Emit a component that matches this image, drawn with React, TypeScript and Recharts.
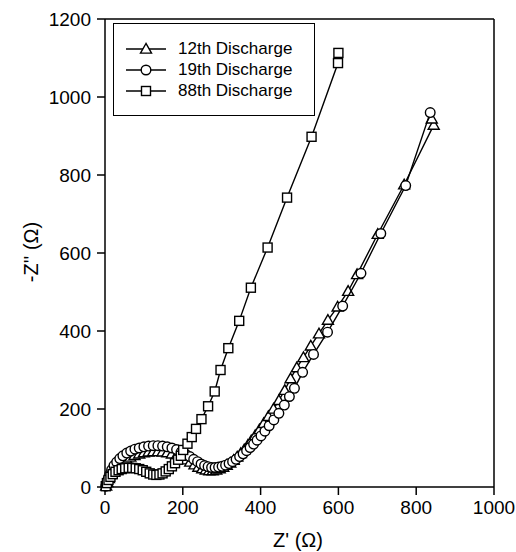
import React from "react";
import {
  ScatterChart,
  Scatter,
  XAxis,
  YAxis,
  ReferenceLine,
} from "recharts";

// Z' (ohm), -Z'' (ohm) pairs
const discharge12 = [
  [3, 3], [6, 12], [10, 22], [15, 32], [21, 42], [28, 51], [36, 59], [45, 66],
  [55, 72], [65, 77], [76, 81], [88, 85], [100, 88], [112, 90], [124, 91],
  [136, 91], [148, 90], [160, 88], [172, 85], [184, 81], [196, 76], [208, 70],
  [219, 64], [230, 57], [240, 51], [250, 47], [259, 44], [268, 42], [277, 42],
  [286, 44], [295, 47], [304, 51], [313, 56], [322, 62], [331, 69], [340, 77],
  [349, 86], [358, 96], [367, 107], [376, 119], [386, 132], [397, 147],
  [408, 163], [420, 181], [433, 200], [447, 222], [462, 248], [477, 278],
  [493, 306], [510, 332], [529, 362], [550, 393], [573, 428], [598, 462],
  [625, 502], [648, 545], [701, 648], [769, 775], [845, 928], [840, 944],
];

const discharge19 = [
  [2, 2], [4, 9], [8, 20], [12, 32], [17, 44], [23, 55], [30, 64], [38, 73],
  [46, 80], [56, 87], [66, 92], [77, 97], [88, 100], [100, 103], [112, 105],
  [124, 106], [136, 106], [148, 105], [160, 103], [172, 100], [184, 96],
  [196, 90], [207, 84], [218, 78], [228, 71], [238, 65], [247, 59], [256, 55],
  [265, 52], [274, 50], [283, 50], [292, 51], [301, 53], [310, 56], [319, 60],
  [328, 65], [337, 71], [346, 78], [355, 85], [364, 93], [373, 101], [382, 110],
  [391, 120], [401, 131], [411, 143], [422, 157], [434, 172], [447, 189],
  [461, 210], [474, 232], [487, 253], [508, 294], [536, 340], [572, 397],
  [611, 464], [658, 548], [709, 650], [773, 773], [836, 960],
];

const discharge88 = [
  [2, 2], [5, 10], [9, 18], [14, 26], [20, 33], [27, 39], [35, 43], [43, 46],
  [52, 48], [61, 49], [70, 49], [79, 48], [88, 46], [97, 43], [106, 39],
  [115, 35], [124, 32], [132, 31], [140, 32], [148, 35], [156, 40], [164, 46],
  [172, 53], [180, 61], [188, 70], [195, 80], [201, 95], [212, 111], [223, 128],
  [234, 149], [248, 174], [265, 207], [282, 245], [297, 300], [317, 356],
  [345, 426], [375, 511], [418, 614], [468, 742], [531, 898], [599, 1087],
  [600, 1113],
];

const xTicks = [0, 200, 400, 600, 800, 1000];
const yTicks = [0, 200, 400, 600, 800, 1000, 1200];

const seriesNames = ["12th Discharge", "19th Discharge", "88th Discharge"];

const toPoints = (arr: number[][]) => arr.map(([x, y]) => ({ x, y }));

const FONT = "'Liberation Sans', Arial, sans-serif";
const STROKE = 1.4;

const Marker = ({ kind, cx, cy }: { kind: string; cx: number; cy: number }) => {
  if (kind === "triangle") {
    const r = 5.5;
    return (
      <polygon
        points={`${cx},${cy - r} ${cx - r},${cy + r * 0.75} ${cx + r},${cy + r * 0.75}`}
        fill="#fff"
        stroke="#000"
        strokeWidth={STROKE}
      />
    );
  }
  if (kind === "square") {
    return (
      <rect x={cx - 4.5} y={cy - 4.5} width={9} height={9} fill="#fff" stroke="#000" strokeWidth={STROKE} />
    );
  }
  return <circle cx={cx} cy={cy} r={4.8} fill="#fff" stroke="#000" strokeWidth={STROKE} />;
};

const kinds = ["triangle", "circle", "square"];

const LegendBox = () => (
  <div
    style={{
      position: "absolute",
      left: 113,
      top: 23,
      border: "1.5px solid #000",
      width: 202,
      height: 93,
      boxSizing: "border-box",
      background: "#fff",
      paddingTop: 14,
      fontFamily: FONT,
      fontSize: 17,
    }}
  >
    {seriesNames.map((name, i) => (
      <div key={name} style={{ display: "flex", alignItems: "center", height: 21 }}>
        <svg width={62} height={20} style={{ marginLeft: 8 }}>
          <line x1={4} y1={10} x2={44} y2={10} stroke="#000" strokeWidth={STROKE} />
          <Marker kind={kinds[i]} cx={24} cy={10} />
        </svg>
        <span style={{ marginLeft: -6 }}>{name}</span>
      </div>
    ))}
  </div>
);

const App: React.FC = () => {
  const series = [discharge12, discharge19, discharge88];
  return (
    <div style={{ position: "absolute", left: 0, top: 0, width: 516, height: 552, background: "#fff" }}>
      <ScatterChart width={516} height={552} margin={{ top: 19, right: 22, left: 10, bottom: 15 }}>
        <XAxis
          type="number"
          dataKey="x"
          domain={[0, 1000]}
          ticks={xTicks}
          tickSize={8}
          tickMargin={6}
          stroke="#000"
          strokeWidth={1.5}
          height={50}
          tick={{ fill: "#000", fontSize: 19, fontFamily: FONT }}
          label={{
            content: () => (
              <text x={298} y={547} textAnchor="middle" fontFamily={FONT} fontSize={20} fill="#000">
                Z' (Ω)
              </text>
            ),
          }}
        />
        <YAxis
          type="number"
          dataKey="y"
          domain={[0, 1200]}
          ticks={yTicks}
          tickSize={8}
          tickMargin={6}
          stroke="#000"
          strokeWidth={1.5}
          width={95}
          tick={{ fill: "#000", fontSize: 19, fontFamily: FONT }}
          label={{
            content: () => (
              <text
                x={33}
                y={252}
                textAnchor="middle"
                dominantBaseline="middle"
                transform="rotate(-90, 33, 252)"
                fontFamily={FONT}
                fontSize={20}
                fill="#000"
              >
                -Z'' (Ω)
              </text>
            ),
          }}
        />
        <ReferenceLine y={1200} stroke="#000" strokeWidth={1.5} />
        <ReferenceLine x={1000} stroke="#000" strokeWidth={1.5} />
        {series.map((s, i) => (
          <Scatter
            key={seriesNames[i]}
            name={seriesNames[i]}
            data={toPoints(s)}
            line={{ stroke: "#000", strokeWidth: STROKE }}
            isAnimationActive={false}
            shape={(p: any) => <Marker kind={kinds[i]} cx={p.cx} cy={p.cy} />}
          />
        ))}
      </ScatterChart>
      <LegendBox />
    </div>
  );
};

export default App;
